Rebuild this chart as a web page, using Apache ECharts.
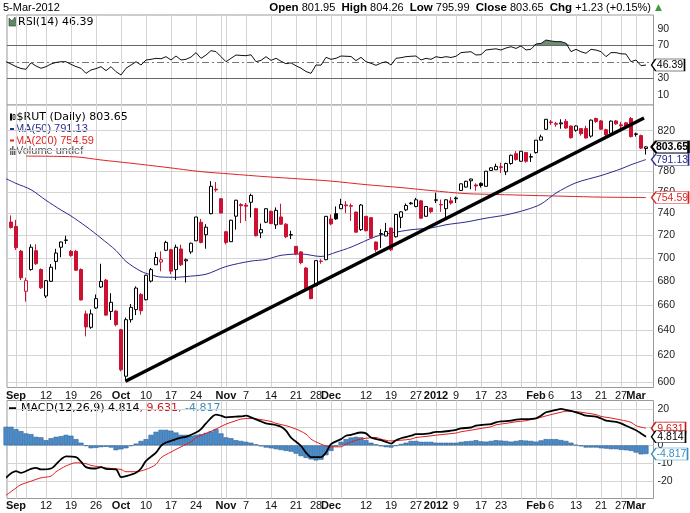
<!DOCTYPE html>
<html><head><meta charset="utf-8">
<script src="https://cdn.jsdelivr.net/npm/echarts@6/dist/echarts.min.js"></script>
<style>html,body{margin:0;padding:0;background:#fff}#c{width:690px;height:513px}</style>
</head><body><div id="c"></div>
<script>
// ---- DATA (index 0 = 31-Aug-2011 ... index 127 = 5-Mar-2012) ----
const ohlc = [ // [open, high, low, close]
[732,738,726,727],[728,734,707,709],[706,707,681,683],[671.6,683,663,680.5],[690,712,689,709.4],
[706.4,712,694,695],[690,691,673.5,674.5],[667.7,681,666,680.5],[680,694.7,679.4,692],[697,708,690,704.3],
[709.4,714.5,700.6,714],[715.5,719.6,712.3,715.8],[705.8,707,701,702.2],[705.8,707,689,689.4],[690,691,664,664.4],
[653,655.6,635,642.5],[642.2,656.5,641,653],[657.8,669,657,665.5],[675.2,695,674.3,679.9],[681,682,651.5,652],
[655,670,648,662.5],[655.3,656,643,644.3],[640.3,641,608,609.2],[604.3,650,600.5,648.3],[648.3,661,646,658.3],
[656.5,675.7,652,674.3],[669,670,652.4,655.6],[664.6,685.6,664,685.1],[680.2,691.3,679,689.9],[694.1,705,694,700.4],
[696.5,705.8,688.5,698.5],[706.7,715.1,706,713.7],[707.3,708,686,688.6],[689.9,711.7,681,709.4],[707.9,711.7,693,694.1],
[697.5,699.5,679,698.5],[705.3,713.5,703.6,712.9],[715.1,736.6,715,736.6],[731.8,734.8,712.8,713.7],[720.5,730,708.1,727.3],
[739.6,770.1,739,765.2],[762.5,769.3,760,761.8],[753.5,754,740,740.2],[723.2,724,712,713.7],[714.3,734,714,733.6],
[737.3,752.5,725.1,752.1],[748,749.3,731,747],[747.5,749.5,733,746.5],[750.2,758.2,736.2,756.6],[744.2,745,719,719.6],
[722.2,730.6,717.5,725.1],[731.8,744.5,731,744.2],[741.8,742.5,730,730.6],[729.4,745.4,725.7,742.7],[736.6,748.8,729.5,730],
[730,731,717.5,718.7],[720.2,724.1,716.6,720.6],[710.2,710.5,702.5,703.6],[705.3,706,694.5,695.9],[691.3,692,673,673.8],
[675.2,676,665,665.5],[676.3,697.7,676,697.7],[697,699,695,697.3],[698.5,737.5,698,737.2],[734.8,738.9,729,730.3],
[739.6,746.3,734,734.8],[744.2,753.4,744,748.1],[747.7,751.2,740.2,747],[747,749,733,746.5],[741.1,741.5,722.5,722.8],
[725.1,748.6,724,747.6],[737.2,737.5,723.5,724.1],[736,736.5,717,717.8],[714,714.5,705.3,707.2],[721,725.5,708.8,721.6],
[719.4,731.2,719,723.4],[726.5,727,706,707.2],[718.7,739,718,738.9],[736.3,742,726.5,741.3],[743.1,749,742,747.2],
[748.8,750.5,748,749.5],[746.3,754.3,745.5,752.5],[751.5,752,735,735.5],[737.2,746.5,737,746.3],[744.9,745,740,741.5],
[752,759.2,749.5,752.5],[748,752.7,741.3,747.7],[744.2,753,735.5,752.5],[751.5,755,748,749.5],[753.5,755.5,749.5,754.2],
[761.3,767.8,761,767.6],[764.5,770.5,764,770],[770.5,772.5,762.5,772.2],[766.5,768,761,765.5],[768,769,764,766],
[765.2,780,765,779.7],[780.4,783.5,780,783],[781.1,787,781,784.4],[784,788,778,783.5],[779.2,788,776,787.2],
[787.2,796,786,795.3],[796.9,799.4,790,791.1],[789.4,799.5,789,799.3],[798,798.5,788,789.4],[793.5,797,788.7,794],
[798,810.5,797,810.4],[810.4,815.9,810,813.7],[821.4,832,821,831.7],[829,831,826,828.3],[826.5,829,824,827.5],
[827,831.7,822,828],[829.6,832,822,822.7],[824.8,825,812,812.9],[820.4,825.5,819,824.8],[822.1,822.5,815,817],
[822.1,825,812,812.6],[814.5,831.5,813,830.8],[832.5,833.5,828,829.5],[830,831,821,821.5],[821,822,814.5,815.8],
[817.3,830.5,816,829.8],[830,831,826,827],[826,829,819,825],[828,829,823,824.5],[832.5,834,813,814],
[816.2,818,814,816.8],[815,816,801.5,802.42],[801.95,804.26,795.99,803.65]
];
const prevClose0 = 736; // close of 30-Aug-2011
const ma50 = [[-1,772.5],[1,768],[4,762],[7,752],[10,743],[12,737.5],[15,728],[18,717.5],[21,706.5],[23,697],[26,688.5],[28,685.5],[30,683.6],[33,683.4],[35,684],[39,686],[43,692.6],[48,697.3],[51,698.7],[54,702.3],[58,703.5],[62,701.3],[65,705],[68,709.5],[73,719],[76,722],[80,725],[84,726.6],[87,729.5],[91,732],[95,735.5],[99,738.5],[103,743.2],[106,748.5],[109,758.8],[113,768.6],[118,775.5],[122,782],[124,786],[127,791.13]];
const ma200 = [[3,794.5],[13,793.7],[18,790.7],[24,787.5],[31,783.5],[38,779.3],[44,777],[51,774.4],[58,772.2],[64,770.2],[71,766.8],[78,764],[84,761.2],[91,758.3],[97,757.5],[104,756.6],[111,755.8],[118,755],[127,754.59]];
const rsiStart = -1;
const rsi = [50.4,47.6,44.5,42.2,41.2,49.2,45.2,42.4,44.4,47.6,49.5,50.4,50.4,47.2,44.5,42.4,36.3,40.4,42,44.4,39.6,44.4,38.3,34.3,42.4,46.4,50.4,46.4,52.5,53.3,54.5,54,56.5,52.5,57.3,52.5,53.3,56,61.4,54.5,58.5,63.8,62.6,56.5,50.4,54.5,58.5,58,57.7,58.8,50.4,52,56.5,52,54.5,51,48,49,45.5,42.5,38.5,36.3,46.4,46.2,55.7,53.3,54.5,57.3,57,56.7,51.7,55.7,50.4,48.5,46,48.8,50.4,46.4,54.5,55.3,56.5,57,57.3,52.5,54.5,53.3,56.5,55.3,56.5,55.5,57,61.4,62,62.5,58.5,59,64.6,65.4,66,64.6,67,68.6,66.5,69.5,64.6,65.5,71.9,72.5,76.7,75.5,74.7,74.7,72.7,62.6,65.4,62.5,60.6,65.4,64.5,62.6,56.5,61.4,61.4,60,59.7,50.4,52.5,45.6,46.39];
const macdLine = [[-1,-18.1],[1,-14.4],[2,-15.3],[4,-13.1],[5,-12.5],[6,-13.4],[8,-12.9],[9,-10.6],[10,-7.8],[11,-6.1],[13,-6.5],[14,-9.1],[15,-12.1],[17,-12.9],[18,-12.1],[19,-13.1],[21,-13.4],[22,-17.7],[23,-17.2],[25,-15.3],[26,-12.9],[27,-8.7],[29,-4.0],[30,-0.3],[31,1.6],[33,3.5],[34,4.4],[35,4.8],[37,7.2],[38,9.1],[39,12.3],[41,17.2],[42,16.6],[43,15.7],[45,16.1],[46,16.2],[47,16.6],[48,15.7],[50,13.4],[51,12.3],[52,11.9],[54,10.4],[55,8.2],[56,4.4],[58,-0.3],[59,-4.0],[60,-6.5],[62,-6.5],[63,-4.0],[64,0.7],[66,3.5],[67,5.4],[68,5.9],[70,7.2],[71,6.7],[72,4.4],[74,2.9],[75,2.0],[76,1.0],[77,2.9],[78,4.0],[80,5.4],[81,6.3],[82,6.3],[84,6.9],[85,7.6],[86,7.6],[88,8.2],[89,8.7],[90,9.5],[92,10.0],[93,11.0],[94,11.4],[96,11.9],[97,12.9],[98,13.4],[100,13.8],[101,14.4],[102,14.7],[103,14.7],[105,15.1],[106,16.6],[107,18.5],[109,19.8],[110,20.4],[111,19.8],[113,18.5],[114,17.6],[115,16.6],[117,16.1],[118,15.1],[119,13.8],[121,13.2],[122,12.3],[123,11.0],[125,8.5],[126,6.7],[127,4.814]];
const macdSignal = [[-1,-27.9],[1,-23.8],[2,-21.9],[4,-20],[6,-18.1],[8,-17.2],[9,-14.7],[11,-11.5],[13,-9.7],[15,-10.2],[16,-11.2],[18,-12.1],[20,-12.9],[22,-13.4],[23,-14.7],[25,-14.7],[27,-13.4],[29,-10.6],[30,-6.9],[32,-3.7],[34,-0.8],[36,2.0],[37,4.4],[39,6.7],[41,9.1],[43,11.9],[45,13.8],[46,14.7],[48,15.1],[50,14.4],[52,13.4],[53,12.3],[55,11.0],[57,9.1],[59,6.3],[60,3.5],[62,0.7],[64,-0.8],[66,-0.8],[67,0.7],[69,2.9],[71,4.0],[73,4.4],[74,3.5],[76,2.5],[78,2.9],[80,3.5],[81,4.4],[83,5.0],[85,5.7],[87,6.3],[89,6.9],[90,7.6],[92,8.5],[94,9.5],[96,10.4],[97,11.5],[99,12.3],[101,13.2],[103,13.8],[104,14.4],[106,15.7],[108,17.2],[110,18.5],[111,19.1],[113,18.9],[115,18.1],[117,17.2],[118,16.2],[120,15.3],[122,14.2],[124,12.9],[125,11.0],[127,9.631]];
const histStart = -1;
const macdHist = [10.4,10.4,9.1,8.0,6.7,6.3,4.8,4.5,2.9,4.0,4.8,5.2,5.9,5.4,3.5,1.5,-0.3,-1.6,-1.4,-1.0,-0.8,-1.2,-2.7,-2.2,-1.6,-0.3,1.0,2.5,3.5,5.9,7.6,8.7,8.7,8.2,7.2,5.9,5.9,5.4,5.9,6.3,7.0,7.8,9.1,6.7,4.5,4.0,2.9,2.5,2.0,1.5,0.6,-0.5,-1.2,-1.6,-2.1,-2.6,-3.1,-3.5,-4.6,-6.0,-7.0,-7.8,-8.4,-8.0,-5.5,-3.1,-0.5,2.0,3.5,4.4,4.8,4.5,3.0,1.5,0.6,-0.5,-1.0,-1.2,-0.3,0.8,1.5,2.5,2.5,2.0,2.0,2.0,1.5,1.5,1.5,1.5,1.5,2.0,2.3,2.5,2.9,2.3,2.1,2.5,2.9,2.7,2.5,2.1,2.5,2.9,2.7,2.5,2.1,2.8,3.5,3.5,3.5,3.0,2.5,1.5,0.3,-0.5,-1.2,-1.2,-1.2,-1.6,-1.8,-2.1,-2.1,-2.5,-2.7,-3.1,-4.0,-5.0,-4.817];
const trendLine = [[22.9,600.5],[126.6,833]];
const xTickIdx = [1,7,12,17,22,27,32,37,43,47,52,57,61,64,71,76,81,85,89,94,98,105,108,113,118,122,125];
const xTickLbl = ['Sep','12','19','26','Oct','10','17','24','Nov','7','14','21','28','Dec','12','19','27','2012','9','17','23','Feb','6','13','21','27','Mar'];
const xGridIdx = [1,3,7,12,17,22,27,32,37,42,43,47,52,57,61,64,66,71,76,81,85,89,94,98,102,105,108,113,118,122,125];
const priceTicks = [600,620,640,660,680,700,720,740,760,780,800,820];
const rsiTicks = [10,30,70,90];
const macdTicks = [-20,-10,0,10,20];
const lastMA50 = 791.13, lastMA200 = 754.59, lastSignal = 9.631, lastMacd = 4.814;

// ---- STYLE ----
const RED = '#cc1133', NAVY = '#2b2b8c', MARED = '#dd2525', HBLUE = '#4a8ccb', SIGBLUE = '#3a8fc0';
const FONT = 'Liberation Sans', DV = 'DejaVu Sans';
const LAST = ohlc.length - 1;
const OB = 70;
const boldLbl = new Set(['Sep','Oct','Nov','Dec','2012','Feb','Mar']);
// an empty sentinel label just past the last day keeps the real end labels from being treated as the axis' max label
const xLabelValues = xTickIdx.concat([128.4]);

const candleData = ohlc.map((d, i) => {
  const [o, h, l, c] = d;
  const pc = i ? ohlc[i - 1][3] : prevClose0;
  const col = c < pc ? RED : '#000';
  const fill = c < o ? col : '#fff';
  return { value: [i, o, c, l, h], itemStyle: { color: fill, color0: fill, borderColor: col, borderColor0: col } };
});
const rsiPts = rsi.map((v, k) => [k + rsiStart, v]);
const rsiOver = rsi.map((v, k) => [k + rsiStart, Math.max(v, OB)]);
const histPts = macdHist.map((v, k) => [k + histStart, v]);

const last = ohlc[LAST], prevC = ohlc[LAST - 1][3];
const chg = last[3] - prevC;
const headerTxt = '{b|Open} ' + last[0].toFixed(2) + '  {b|High} ' + last[1].toFixed(2) + '  {b|Low} ' + last[2].toFixed(2) +
  '  {b|Close} ' + last[3].toFixed(2) + '  {b|Chg} +' + chg.toFixed(2) + ' (+' + (chg / prevC * 100).toFixed(2) + '%)';

const TAG = 'path://M0,6 L5,0 L40,0 L40,12 L5,12 Z';
function tag(x, val, txt, color, w, bold) {
  return { coord: [x, val], value: txt, symbol: TAG, symbolSize: [w, 12], symbolKeepAspect: false,
    symbolOffset: [w / 2 + 5.5, 0],
    itemStyle: { color: '#fff', borderColor: color, borderWidth: bold ? 1.5 : 1 },
    label: { show: true, position: 'inside', formatter: txt, color: bold ? '#000' : color, fontFamily: FONT,
      fontSize: 10.5, fontWeight: bold ? 'bold' : 'normal', offset: [2, 0.5] } };
}

function xAxis(gi, showLabel, margin) {
  return { type: 'value', gridIndex: gi, min: -0.8, max: 128.5,
    axisLine: { show: false }, axisTick: { show: false, customValues: xGridIdx },
    splitLine: { show: true, lineStyle: { color: '#d4d4d4', width: 1 } },
    axisLabel: { show: showLabel, customValues: xLabelValues, margin: margin, color: '#111', fontFamily: FONT, fontSize: 11,
      hideOverlap: false,
      formatter: v => { const k = xTickIdx.indexOf(Math.round(v)); if (k < 0) return ''; const t = xTickLbl[k];
        return boldLbl.has(t) ? '{b|' + t + '}' : t; },
      rich: { b: { fontWeight: 'bold', fontFamily: FONT, fontSize: 11, color: '#111' } } } };
}
const yLbl = { color: '#222', fontFamily: FONT, fontSize: 10.5, margin: 4 };

const option = {
  animation: false,
  backgroundColor: '#fff',
  textStyle: { fontFamily: FONT },
  grid: [
    { left: 7, right: 36.5, top: 15, height: 90, show: true, borderColor: '#9a9a9a', borderWidth: 1, backgroundColor: '#fff' },
    { left: 7, right: 36.5, top: 105, height: 282.5, show: true, borderColor: '#9a9a9a', borderWidth: 1, backgroundColor: '#fff' },
    { left: 7, right: 36.5, top: 400.5, height: 98, show: true, borderColor: '#9a9a9a', borderWidth: 1, backgroundColor: '#fff' }
  ],
  xAxis: [xAxis(0, false, 0), xAxis(1, true, 2.5), xAxis(2, true, 1.5)],
  yAxis: [
    { type: 'value', gridIndex: 0, position: 'right', min: -2.06, max: 107, axisLine: { show: false },
      axisTick: { show: false, customValues: rsiTicks }, splitLine: { show: false },
      axisLabel: Object.assign({ customValues: rsiTicks }, yLbl) },
    { type: 'log', logBase: 10, gridIndex: 1, position: 'right', min: 595.9, max: 846.6, axisLine: { show: false },
      axisTick: { show: false, customValues: priceTicks }, splitLine: { show: true, lineStyle: { color: '#d4d4d4' } },
      axisLabel: Object.assign({ customValues: priceTicks }, yLbl) },
    { type: 'value', gridIndex: 2, position: 'right', min: -29.66, max: 25.08, axisLine: { show: false },
      axisTick: { show: false, customValues: macdTicks }, splitLine: { show: true, lineStyle: { color: '#d4d4d4' } },
      axisLabel: Object.assign({ customValues: macdTicks }, yLbl) }
  ],
  series: [
    // RSI overbought fill (between RSI and the 70 line)
    { type: 'line', xAxisIndex: 0, yAxisIndex: 0, data: rsiOver, symbol: 'none', lineStyle: { opacity: 0 },
      areaStyle: { color: '#6e8f73', opacity: 1, origin: OB }, silent: true },
    { type: 'line', xAxisIndex: 0, yAxisIndex: 0, data: rsiPts, symbol: 'none', lineStyle: { color: '#111', width: 1 }, z: 5,
      markLine: { silent: true, symbol: 'none', label: { show: false },
        data: [ { yAxis: 70, lineStyle: { color: '#666', width: 1, type: 'solid' } },
                { yAxis: 30, lineStyle: { color: '#666', width: 1, type: 'solid' } },
                { yAxis: 50, lineStyle: { color: '#777', width: 1, type: [7, 3, 2, 3] } } ] },
      markPoint: { data: [tag(LAST, rsi[rsi.length - 1], rsi[rsi.length - 1].toFixed(2), '#000', 33, false)] } },
    // Price
    { type: 'line', xAxisIndex: 1, yAxisIndex: 1, data: ma200, symbol: 'none', smooth: 0.3, lineStyle: { color: MARED, width: 1 },
      markPoint: { data: [tag(LAST, lastMA200, lastMA200.toFixed(2), MARED, 37, false)] } },
    { type: 'line', xAxisIndex: 1, yAxisIndex: 1, data: ma50, symbol: 'none', smooth: 0.3, lineStyle: { color: NAVY, width: 1 },
      markPoint: { data: [tag(LAST, lastMA50, lastMA50.toFixed(2), NAVY, 37, false)] } },
    { type: 'candlestick', xAxisIndex: 1, yAxisIndex: 1, data: candleData, barWidth: 4, encode: { x: 0, y: [1, 2, 3, 4] },
      itemStyle: { borderWidth: 1 }, z: 3,
      markPoint: { data: [tag(LAST, last[3], last[3].toFixed(2), '#000', 37, true)] } },
    { type: 'line', xAxisIndex: 1, yAxisIndex: 1, data: trendLine, symbol: 'none', lineStyle: { color: '#000', width: 3.5 }, z: 6 },
    // MACD
    { type: 'bar', xAxisIndex: 2, yAxisIndex: 2, data: histPts, barWidth: 5,
      itemStyle: { color: HBLUE, borderColor: '#2f5f90', borderWidth: 0.6 },
      markPoint: { data: [tag(LAST, macdHist[macdHist.length - 1], macdHist[macdHist.length - 1].toFixed(3), SIGBLUE, 36, false)] } },
    { type: 'line', xAxisIndex: 2, yAxisIndex: 2, data: macdSignal, symbol: 'none', smooth: 0.3, lineStyle: { color: '#e02020', width: 1 },
      markPoint: { data: [tag(LAST, lastSignal, lastSignal.toFixed(3), '#d01818', 34, false)] } },
    { type: 'line', xAxisIndex: 2, yAxisIndex: 2, data: macdLine, symbol: 'none', smooth: 0.3, lineStyle: { color: '#000', width: 1.8 },
      markPoint: { data: [tag(LAST, lastMacd, lastMacd.toFixed(3), '#000', 34, false)] } }
  ],
  graphic: [
    { type: 'text', x: 3, y: 8, style: { text: '5-Mar-2012', fill: '#000', font: '11px "Liberation Sans"', verticalAlign: 'middle' } },
    { type: 'text', x: 651, y: 8, style: { text: headerTxt, fill: '#000', font: '11px "Liberation Sans"', align: 'right', verticalAlign: 'middle',
        rich: { b: { fontWeight: 'bold', fontSize: 11.5, fontFamily: FONT } } } },
    { type: 'text', x: 655, y: 8, style: { text: '▲', fill: '#3d9a3d', font: '9px "DejaVu Sans"', verticalAlign: 'middle' } },
    // RSI legend
    { type: 'polygon', shape: { points: [[9, 26], [9, 18], [12, 21], [15, 17], [17, 26]] }, style: { fill: '#5f8a66', stroke: '#333', lineWidth: 0.6 } },
    { type: 'text', x: 18, y: 21.7, style: { text: 'RSI(14) ' + rsi[rsi.length - 1].toFixed(2), fill: '#000', font: '11px "DejaVu Sans"', verticalAlign: 'middle' } },
    // Price legend
    { type: 'rect', shape: { x: 10, y: 113.5, width: 2, height: 7 }, style: { fill: '#000' } },
    { type: 'rect', shape: { x: 13, y: 114.5, width: 2, height: 5 }, style: { fill: '#fff', stroke: '#000', lineWidth: 0.8 } },
    { type: 'text', x: 16.5, y: 117.5, style: { text: '$RUT (Daily) ' + last[3].toFixed(2), fill: '#000', font: '11px "DejaVu Sans"', verticalAlign: 'middle' } },
    { type: 'line', shape: { x1: 10, y1: 129, x2: 14, y2: 129 }, style: { stroke: NAVY, lineWidth: 2 } },
    { type: 'text', x: 15, y: 129, style: { text: 'MA(50) ' + lastMA50.toFixed(2), fill: NAVY, font: '11px "Liberation Sans"', verticalAlign: 'middle' } },
    { type: 'line', shape: { x1: 10, y1: 140.5, x2: 14, y2: 140.5 }, style: { stroke: MARED, lineWidth: 2 } },
    { type: 'text', x: 15, y: 140.5, style: { text: 'MA(200) ' + lastMA200.toFixed(2), fill: MARED, font: '11px "Liberation Sans"', verticalAlign: 'middle' } },
    { type: 'rect', shape: { x: 10, y: 148, width: 1.5, height: 7 }, style: { fill: '#666' } },
    { type: 'rect', shape: { x: 12, y: 146, width: 1.5, height: 9 }, style: { fill: '#666' } },
    { type: 'rect', shape: { x: 14, y: 149, width: 1.5, height: 6 }, style: { fill: '#666' } },
    { type: 'text', x: 16, y: 151, style: { text: 'Volume undef', fill: '#555', font: '11px "Liberation Sans"', verticalAlign: 'middle' } },
    // MACD legend
    { type: 'line', shape: { x1: 9, y1: 408.5, x2: 16, y2: 408.5 }, style: { stroke: '#000', lineWidth: 2.5 } },
    { type: 'text', x: 21, y: 408.5, style: { text: '{k|MACD(12,26,9) ' + lastMacd.toFixed(3) + '}{r|, ' + lastSignal.toFixed(3) + '}{s|, ' + macdHist[macdHist.length - 1].toFixed(3) + '}',
        font: '11px "DejaVu Sans"', verticalAlign: 'middle',
        rich: { k: { fill: '#000', fontFamily: DV, fontSize: 11 }, r: { fill: '#d01818', fontFamily: DV, fontSize: 11 }, s: { fill: SIGBLUE, fontFamily: DV, fontSize: 11 } } } }
  ]
};
const chart = echarts.init(document.getElementById('c'), null, { renderer: 'canvas' });
chart.setOption(option);
</script></body></html>
